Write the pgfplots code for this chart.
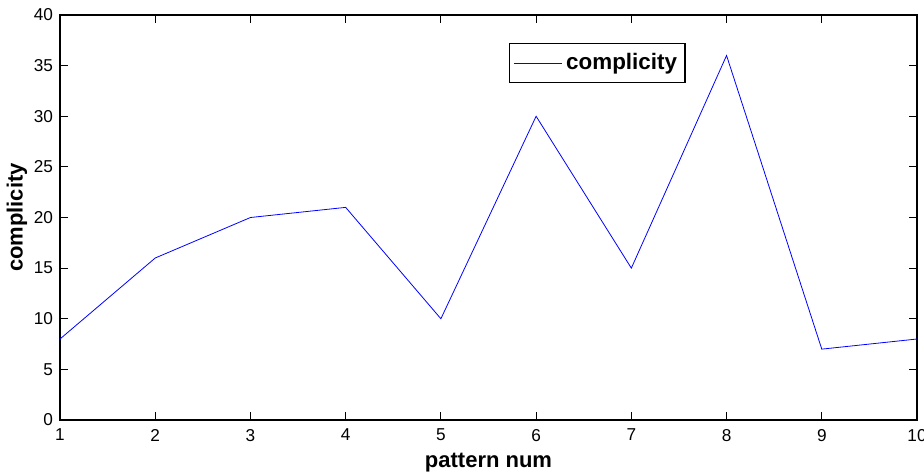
\documentclass[border=0pt]{standalone}
\usepackage{fontspec}
\setmainfont{Liberation Sans}
\usepackage{pgfplots}
\pgfplotsset{compat=1.18}
\begin{document}
\begin{tikzpicture}
\begin{axis}[
  at={(0,0)}, anchor=south west,
  scale only axis, width=428.5pt, height=202.5pt,
  xmin=1, xmax=10, ymin=0, ymax=40,
  xtick={1,...,10}, ytick={0,5,...,40},
  tick align=inside, major tick length=4pt,
  tick style={black, line width=0.5pt},
  axis line style={black, line width=0.6pt},
  every tick label/.append style={font=\fontsize{8.6}{9}\selectfont},
  xticklabel style={yshift=-1pt},
  yticklabel style={xshift=0pt},
  /pgf/number format/assume math mode=true,
  xlabel={\textbf{pattern num}}, ylabel={\textbf{complicity}},
  xlabel style={font=\fontsize{11}{12}\selectfont, yshift=1pt},
  ylabel style={font=\fontsize{11}{12}\selectfont, yshift=-3.5pt},
  legend style={at={(0.730,0.931)}, anchor=north east, font=\fontsize{11.2}{12}\selectfont\bfseries, draw=black, line width=0.6pt, inner xsep=2pt, inner ysep=3pt},
  legend cell align=left,
  legend image code/.code={\draw[#1] (0pt,0pt) -- (24pt,0pt);},
]
\addplot[blue, line width=0.4pt] coordinates {(1,8) (2,16) (3,20) (4,21) (5,10) (6,30) (7,15) (8,36) (9,7) (10,8)};
\addlegendentry{complicity}
\end{axis}
\pgfresetboundingbox
\useasboundingbox (-30pt,-26pt) rectangle (432pt,210pt);
\end{tikzpicture}
\end{document}
